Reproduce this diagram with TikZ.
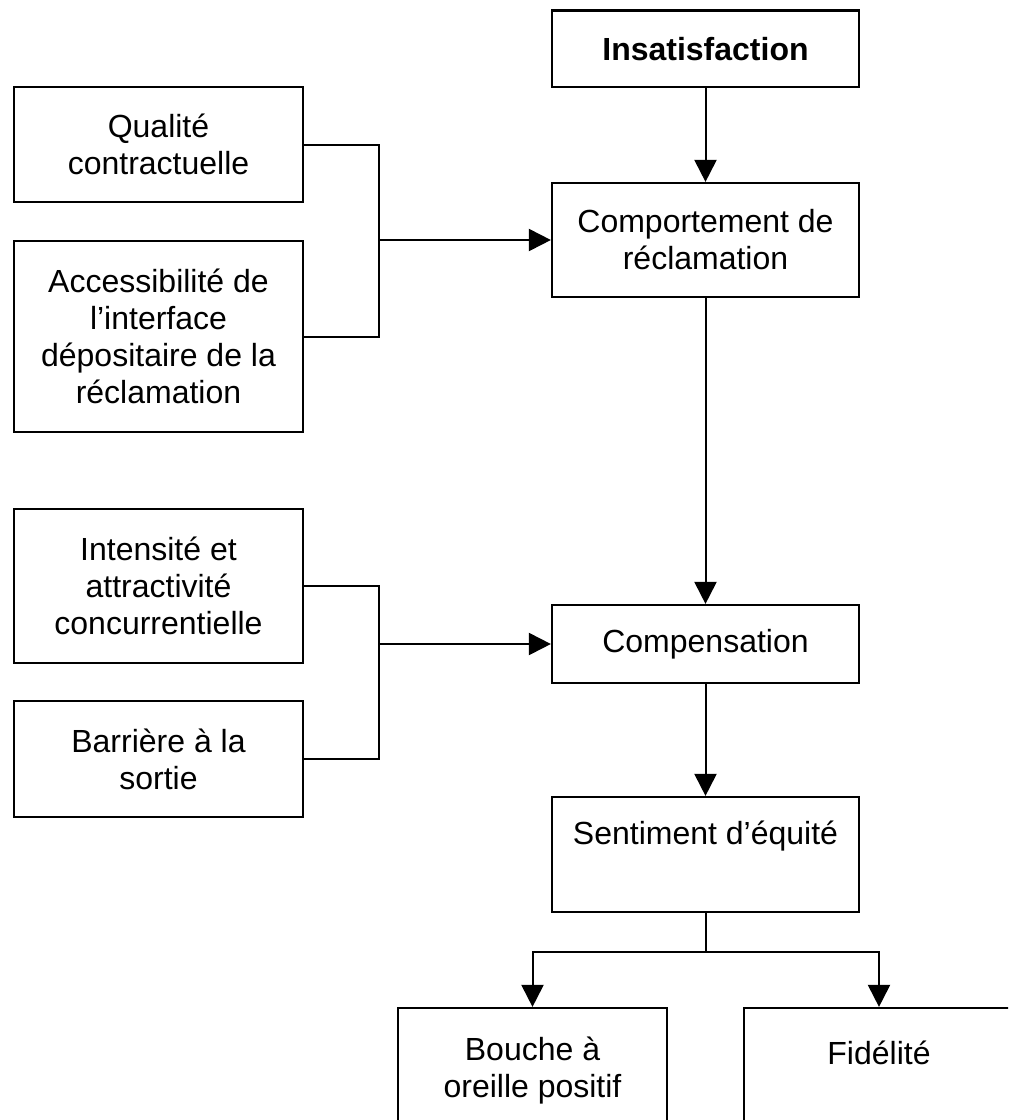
\documentclass[tikz,border=0pt]{standalone}
\usepackage{fontspec}
\setmainfont{Liberation Sans}
\usetikzlibrary{arrows.meta}

\begin{document}
\begin{tikzpicture}[x=0.5pt, y=-0.5pt,
        boite/.style={draw, line width=1.1pt, align=center, inner sep=2pt,
            font=\fontsize{16}{18.5}\selectfont},
        gauche/.style={boite, minimum width=144.5pt},
        droite/.style={boite, minimum width=153.5pt},
        trait/.style={line width=1pt},
        fleche/.style={line width=1pt, -{Triangle[length=11pt, width=11pt]}}]
        \useasboundingbox (0,0) rectangle (1008,1120);
        \clip (0,0) rectangle (1008,1120);
        % colonne de droite
        \node[droite, minimum height=38.25pt] (insat) at (705.5,48.75) {\textbf{Insatisfaction}};
        \node[droite, minimum height=57pt] (reclam) at (705.5,240) {Comportement de\\réclamation};
        \node[droite, minimum height=39pt] (compens) at (705.5,644) {Compensation};
        \node[droite, minimum height=57.5pt, text height=12pt, text depth=22.5pt] (equite) at (705.5,854.5) {Sentiment d’équité};
        % colonne de gauche
        \node[gauche, minimum height=57.5pt] (qualite) at (158.5,144.5) {Qualité\\contractuelle};
        \node[gauche, minimum height=95.5pt] (acces) at (158.5,336.5) {Accessibilité de\\l’interface\\dépositaire de la\\réclamation};
        \node[gauche, minimum height=77pt] (intens) at (158.5,586) {Intensité et\\attractivité\\concurrentielle};
        \node[gauche, minimum height=58pt] (barriere) at (158.5,759) {Barrière à la\\sortie};
        % en bas
        \node[boite, minimum width=134.5pt, minimum height=62.5pt] (bouche) at (532.5,1070.5) {Bouche à\\oreille positif};
        \node[boite, minimum width=135pt, minimum height=62.5pt, text height=12pt, text depth=18.5pt] (fidelite) at (879,1070.5) {Fidélité};
        % jonctions
        \coordinate (j1) at (379,240);
        \coordinate (j2) at (379,644);
        \path (equite.south) ++(0,39) coordinate (split);
        % liaisons
        \draw[fleche] (insat) -- (reclam);
        \draw[fleche] (reclam) -- (compens);
        \draw[fleche] (compens) -- (equite);
        \draw[trait] (qualite.east) -| (j1) |- (acces.east);
        \draw[fleche] (j1) -- (reclam.west);
        \draw[trait] (intens.east) -| (j2) |- (barriere.east);
        \draw[fleche] (j2) -- (compens.west);
        \draw[trait] (equite.south) -- (split);
        \draw[fleche] (split) -| (bouche.north);
        \draw[fleche] (split) -| (fidelite.north);
    \end{tikzpicture}
\end{document}
